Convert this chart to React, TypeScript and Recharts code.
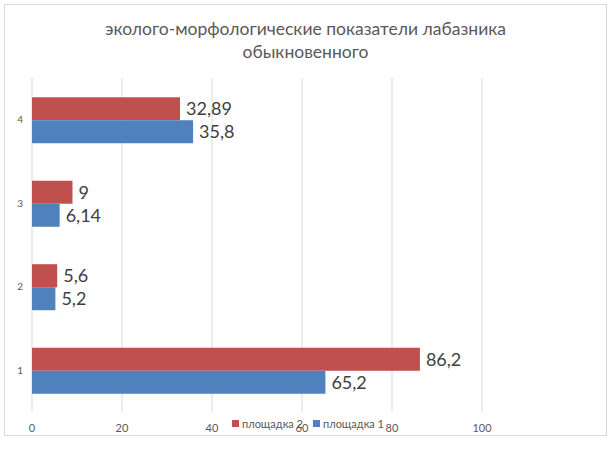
import React from "react";
import { BarChart, Bar, XAxis, YAxis, CartesianGrid, LabelList } from "recharts";

const categories = ["1", "2", "3", "4"];
const site1 = [65.2, 5.2, 6.14, 35.8];
const site2 = [86.2, 5.6, 9, 32.89];
const xTicks = [0, 20, 40, 60, 80, 100];

const data = categories.map((c, i) => ({ cat: c, site1: site1[i], site2: site2[i] }));

const fmt = (v: any) => String(v).replace(".", ",");

const FONT = "Lato, 'Open Sans', sans-serif";

const legendItems = [
  { name: "площадка 2", color: "#C0504D" },
  { name: "площадка 1", color: "#4F81BD" },
];

const LegendBox = () => (
  <div
    style={{
      position: "absolute",
      left: 232,
      top: 417,
      display: "flex",
      alignItems: "center",
      fontSize: 11,
      color: "#595959",
      fontFamily: FONT,
    }}
  >
    {legendItems.map((it) => (
      <div key={it.name} style={{ display: "flex", alignItems: "center", marginRight: 10 }}>
        <span style={{ width: 7, height: 7, background: it.color, marginRight: 3, display: "inline-block" }} />
        <span>{it.name}</span>
      </div>
    ))}
  </div>
);

const App: React.FC = () => (
  <div style={{ position: "absolute", left: 0, top: 0, width: 613, height: 449, background: "#fff", fontFamily: FONT }}>
    <div
      style={{
        position: "absolute",
        left: 4,
        top: 4,
        width: 603,
        height: 432,
        border: "1px solid #D9D9D9",
        boxSizing: "border-box",
      }}
    />
    <div
      style={{
        position: "absolute",
        left: 0,
        top: 17,
        width: 611,
        textAlign: "center",
        fontSize: 17.5,
        lineHeight: "23px",
        color: "#595959",
      }}
    >
      эколого-морфологические показатели лабазника
      <br />
      обыкновенного
    </div>
    <BarChart
      width={613}
      height={449}
      data={data}
      layout="vertical"
      margin={{ top: 78, right: 131, bottom: 12, left: 12 }}
      barCategoryGap="23%"
      barGap={0}
      style={{ position: "absolute", left: 0, top: 0 }}
    >
      <CartesianGrid horizontal={false} stroke="#D9D9D9" />
      <XAxis
        type="number"
        domain={[0, 100]}
        ticks={xTicks}
        axisLine={false}
        tickLine={false}
        tickMargin={6}
        height={25}
        tick={{ fontSize: 11, fill: "#595959", fontFamily: FONT }}
      />
      <YAxis
        type="category"
        dataKey="cat"
        reversed
        width={20}
        axisLine={false}
        tickLine={false}
        tickMargin={3}
        tick={{ fontSize: 10, fill: "#595959", fontFamily: FONT }}
      />
      <Bar dataKey="site2" name="площадка 2" fill="#C0504D" isAnimationActive={false}>
        <LabelList dataKey="site2" position="right" offset={6} formatter={fmt} fill="#404040" fontSize={18} fontFamily={FONT} />
      </Bar>
      <Bar dataKey="site1" name="площадка 1" fill="#4F81BD" isAnimationActive={false}>
        <LabelList dataKey="site1" position="right" offset={6} formatter={fmt} fill="#404040" fontSize={18} fontFamily={FONT} />
      </Bar>
    </BarChart>
    <LegendBox />
  </div>
);

export default App;
